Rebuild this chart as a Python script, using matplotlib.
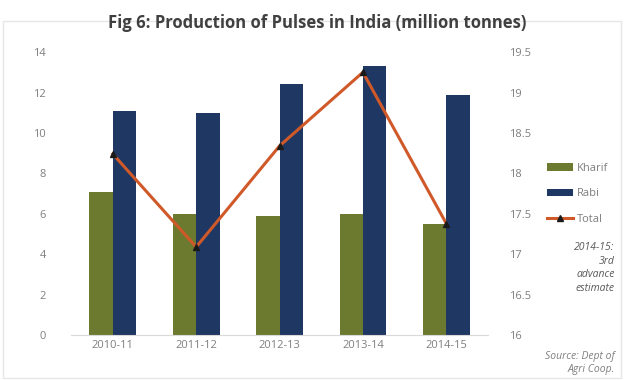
import matplotlib
matplotlib.use("Agg")
import matplotlib.pyplot as plt
import numpy as np

years = ["2010-11", "2011-12", "2012-13", "2013-14", "2014-15"]
kharif = [7.1, 6.0, 5.9, 6.0, 5.5]
rabi = [11.1, 11.0, 12.4, 13.3, 11.9]
total = [18.24, 17.09, 18.34, 19.25, 17.38]

plt.rcParams["font.family"] = ["Open Sans", "DejaVu Sans"]

fig = plt.figure(figsize=(6.24, 3.8), dpi=100)
ax = fig.add_axes([0.114, 0.118, 0.668, 0.745])
ax2 = ax.twinx()

x = np.arange(len(years))
w = 0.28
grey = "#7f7f7f"
ax.bar(x - w / 2, kharif, w, color="#6b7a2f", label="Kharif", zorder=2)
ax.bar(x + w / 2, rabi, w, color="#1f3763", label="Rabi", zorder=2)
ax2.plot(x, total, color="#d0592a", lw=2.2, marker="^", ms=5,
         mfc="#1a1a1a", mec="#1a1a1a", label="Total", zorder=3)

ax.set_xlim(-0.5, len(years) - 0.5)
ax.set_ylim(0, 14)
ax.set_yticks(range(0, 15, 2))
ax2.set_ylim(16, 19.5)
ax2.set_yticks(np.arange(16, 19.6, 0.5))
ax2.set_yticklabels(["16", "16.5", "17", "17.5", "18", "18.5", "19", "19.5"])
ax.set_xticks(x)
ax.set_xticklabels(years)

for a in (ax, ax2):
    for s in a.spines.values():
        s.set_visible(False)
    a.tick_params(length=0, colors=grey, labelsize=8)
ax.spines["bottom"].set_visible(True)
ax.spines["bottom"].set_color("#d9d9d9")
ax.tick_params(axis="y", pad=18)
ax2.tick_params(axis="y", pad=15)

fig.text(0.508, 0.94, "Fig 6: Production of Pulses in India (million tonnes)",
         ha="center", va="center", fontsize=12, fontweight="bold", color="#404040")

h1, l1 = ax.get_legend_handles_labels()
h2, l2 = ax2.get_legend_handles_labels()
fig.legend(h1 + h2, l1 + l2, loc="center left", bbox_to_anchor=(0.86, 0.49),
           frameon=False, fontsize=8, labelcolor=grey, handlelength=2.4,
           handletextpad=0.3, labelspacing=1.3)

fig.text(0.985, 0.295, "2014-15:\n3rd\nadvance\nestimate", ha="right", va="center",
         fontsize=7.5, style="italic", color="#595959", linespacing=1.35)
fig.text(0.985, 0.045, "Source: Dept of\nAgri Coop.", ha="right", va="center",
         fontsize=7.5, style="italic", color=grey, linespacing=1.3)

fig.patches.append(plt.Rectangle((0.005, 0.005), 0.99, 0.94, transform=fig.transFigure,
                                 fill=False, ec="#e6e6e6", lw=1))

fig.savefig("out.png", dpi=100)
